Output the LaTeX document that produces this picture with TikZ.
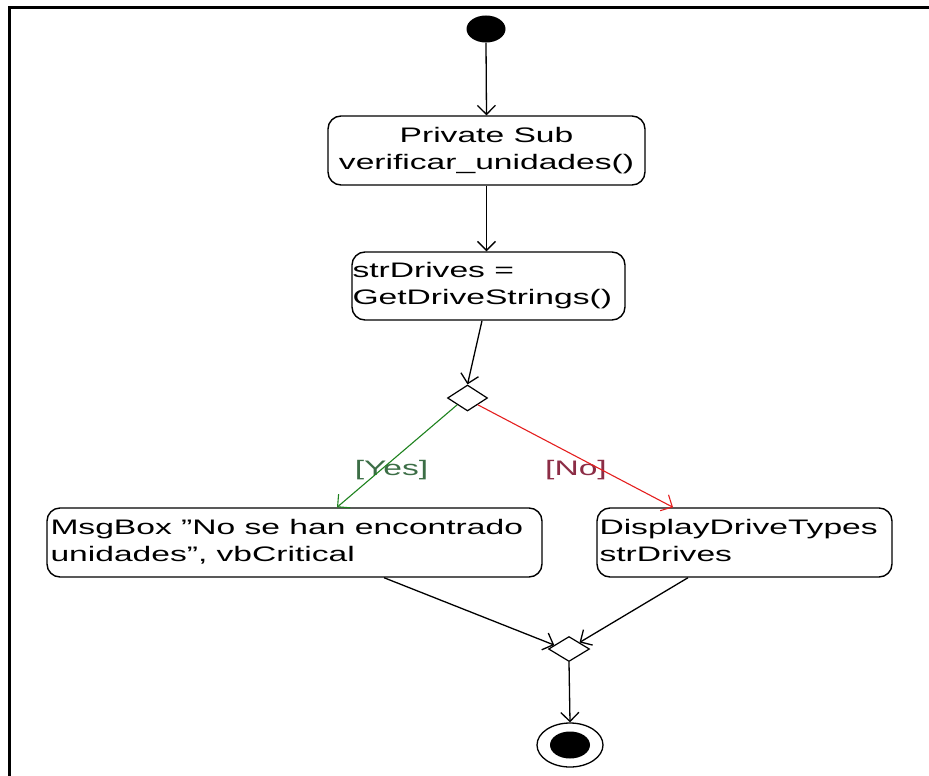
\documentclass[tikz,border=0pt]{standalone}
\usepackage{fontspec}
\setmainfont{Liberation Sans}[Ligatures=ResetAll]
\usepackage{graphicx}
\usetikzlibrary{shapes.geometric,arrows.meta,calc}
\definecolor{flowgreen}{RGB}{30,130,30}
\definecolor{flowred}{RGB}{228,30,30}
\definecolor{yestext}{RGB}{60,110,70}
\definecolor{notext}{RGB}{140,45,70}
\newcommand\widetext[2]{\scalebox{1.6}[1]{\begin{tabular}{@{}#1@{}}#2\end{tabular}}}
\begin{document}
\begin{tikzpicture}[x=1pt,y=-1pt,
  box/.style={draw, line width=1.4pt, rounded corners=13pt, inner sep=0pt},
  txt/.style={inner sep=0pt, font=\fontsize{21}{27}\selectfont},
  flow/.style={line width=1.3pt, -{Straight Barb[length=9pt,width=18pt]}},
  decision/.style={diamond, draw, line width=1.2pt, inner sep=0pt, fill=white},
  frameline/.style={line width=3pt}
]
\useasboundingbox (0,0) rectangle (929,776);
% frame
\draw[frameline] (9,776) -- (9,8) -- (929,8);

% nodes
\node[ellipse, fill=black, minimum width=39pt, minimum height=27pt, inner sep=0pt] (start) at (486,29) {};
\node[box, minimum width=317pt, minimum height=69pt] (b1) at (486.5,150.5) {};
\node[txt] (t1) at (b1.center) {\widetext{c}{Private Sub\\verificar\_unidades()}};
\node[box, minimum width=273pt, minimum height=68pt] (b2) at (488.5,286) {};
\node[txt, anchor=west] (t2) at ([xshift=1pt]b2.west) {\widetext{l}{strDrives =\\GetDriveStrings()}};
\node[decision, minimum width=40pt, minimum height=26pt] (d1) at (467.5,398) {};
\node[box, minimum width=495pt, minimum height=69pt] (b3) at (294.5,542.5) {};
\node[txt, anchor=west] (t3) at ([xshift=4pt]b3.west) {\widetext{l}{MsgBox "No se han encontrado\\unidades", vbCritical}};
\node[box, minimum width=295pt, minimum height=69pt] (b4) at (744.5,542.5) {};
\node[txt, anchor=west] (t4) at ([xshift=3pt]b4.west) {\widetext{l}{DisplayDriveTypes\\strDrives}};
\node[decision, minimum width=41pt, minimum height=25pt] (m) at (569,649) {};
\node[ellipse, draw, line width=1.3pt, minimum width=66pt, minimum height=44pt, inner sep=0pt] (final) at (570,745) {};
\node[ellipse, fill=black, minimum width=40pt, minimum height=27pt, inner sep=0pt] (finaldot) at (final.center) {};

% labels
\node[txt, text=yestext] (yes) at (391.5,470) {\scalebox{1.6}[1]{[Yes]}};
\node[txt, text=notext] (no) at (576,470) {\scalebox{1.6}[1]{[No]}};

% connectors
\draw[flow] (start.south) -- (b1.north);
\draw[flow] (b1.south) -- (b1.south |- b2.north);
\draw[flow] ([xshift=-6.5pt]b2.south) -- (d1.north);
\draw[flow, flowgreen, line width=1.1pt] (d1.south west) -- ([xshift=42.5pt]b3.north);
\draw[flow, flowred, line width=1.1pt] (d1.south east) -- ([xshift=-71.5pt]b4.north);
\draw[flow] ([xshift=89.5pt]b3.south) -- ($(m.west)!0.3!(m.north)$);
\draw[flow] ([xshift=-56.5pt]b4.south) -- (m.north east);
\draw[flow] (m.south) -- (final.north);
\end{tikzpicture}
\end{document}
